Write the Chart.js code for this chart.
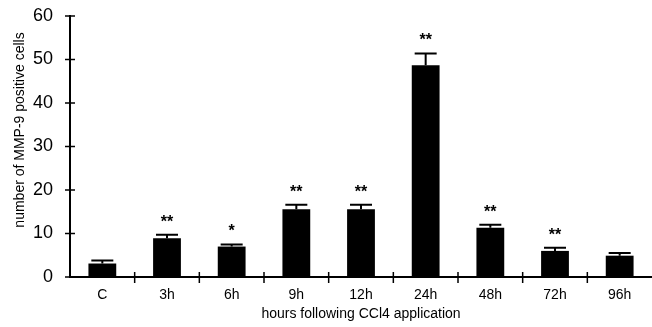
<!DOCTYPE html>
<html>
<head>
<meta charset="utf-8">
<script src="https://cdn.jsdelivr.net/npm/chart.js@4.4.0/dist/chart.umd.min.js"></script>
<style>
  html, body { margin: 0; padding: 0; background: #fff; }
  #wrap { width: 652px; height: 327px; position: relative; }
</style>
</head>
<body>
<div id="wrap"><canvas id="mmpChart"></canvas></div>
<script>
// values
const categories = ['C', '3h', '6h', '9h', '12h', '24h', '48h', '72h', '96h'];
const cellCounts = [3.1, 8.9, 7.0, 15.6, 15.6, 48.7, 11.3, 6.0, 4.9];
const errorValues = [0.7, 0.8, 0.5, 1.0, 1.0, 2.7, 0.7, 0.7, 0.6];
const significance = ['', '**', '*', '**', '**', '**', '**', '**', ''];
const yTicks = [0, 10, 20, 30, 40, 50, 60];

const FONT = "'Liberation Sans', Arial, Helvetica, sans-serif";

// error bars, significance marks, crossing tick marks and y title
const extrasPlugin = {
    id: 'extras',
    afterDatasetsDraw(chart) {
        const ctx = chart.ctx;
        const yScale = chart.scales.y;
        const area = chart.chartArea;
        const meta = chart.getDatasetMeta(0);

        ctx.save();
        ctx.strokeStyle = '#000';
        ctx.fillStyle = '#000';
        ctx.lineWidth = 2;

        meta.data.forEach((bar, i) => {
            const top = yScale.getPixelForValue(cellCounts[i] + errorValues[i]);
            ctx.beginPath();
            ctx.moveTo(bar.x, bar.y);
            ctx.lineTo(bar.x, top);
            ctx.moveTo(bar.x - 11, top);
            ctx.lineTo(bar.x + 11, top);
            ctx.stroke();

            if (significance[i]) {
                ctx.font = 'bold 16px ' + FONT;
                ctx.textAlign = 'center';
                ctx.textBaseline = 'alphabetic';
                ctx.fillText(significance[i], bar.x, top - 8);
            }
        });

        // y tick marks crossing the axis
        ctx.lineWidth = 1.5;
        yTicks.forEach(v => {
            const py = yScale.getPixelForValue(v);
            ctx.beginPath();
            ctx.moveTo(area.left - 5, py);
            ctx.lineTo(area.left + 5, py);
            ctx.stroke();
        });

        // x tick marks at the category boundaries
        const step = (area.right - area.left) / categories.length;
        for (let i = 1; i < categories.length; i++) {
            const px = area.left + i * step;
            ctx.beginPath();
            ctx.moveTo(px, area.bottom - 5);
            ctx.lineTo(px, area.bottom + 6);
            ctx.stroke();
        }

        // y axis title
        ctx.translate(20, 130);
        ctx.rotate(-Math.PI / 2);
        ctx.font = '14px ' + FONT;
        ctx.textAlign = 'center';
        ctx.textBaseline = 'middle';
        ctx.fillText('number of MMP-9 positive cells', 0, 0);
        ctx.restore();
    }
};

const ctx = document.getElementById('mmpChart').getContext('2d');
const mmpChart = new Chart(ctx, {
    type: 'bar',
    data: {
        labels: categories,
        datasets: [{
            data: cellCounts,
            backgroundColor: '#000',
            borderWidth: 0,
            categoryPercentage: 1,
            barPercentage: 0.43
        }]
    },
    options: {
        responsive: true,
        maintainAspectRatio: false,
        animation: false,
        layout: {
            padding: { top: 16, right: 0, left: 0, bottom: 0 }
        },
        scales: {
            x: {
                grid: { display: false, drawTicks: false },
                border: { display: true, color: '#000', width: 2 },
                ticks: {
                    color: '#000',
                    padding: 10,
                    font: { family: FONT, size: 14 }
                },
                title: {
                    display: true,
                    text: 'hours following CCl4 application',
                    color: '#000',
                    padding: { top: 0, bottom: 4 },
                    font: { family: FONT, size: 14 }
                },
                afterFit(scale) { scale.height = 50; }
            },
            y: {
                min: 0,
                max: 60,
                grid: { display: false, drawTicks: false },
                border: { display: true, color: '#000', width: 2 },
                ticks: {
                    stepSize: 10,
                    color: '#000',
                    padding: 17,
                    font: { family: FONT, size: 18 }
                },
                afterFit(scale) {
                    scale.width = 70;
                    scale.paddingTop = 0;
                    scale.paddingBottom = 0;
                }
            }
        },
        plugins: {
            legend: { display: false },
            tooltip: { enabled: false }
        }
    },
    plugins: [extrasPlugin]
});
</script>
</body>
</html>
